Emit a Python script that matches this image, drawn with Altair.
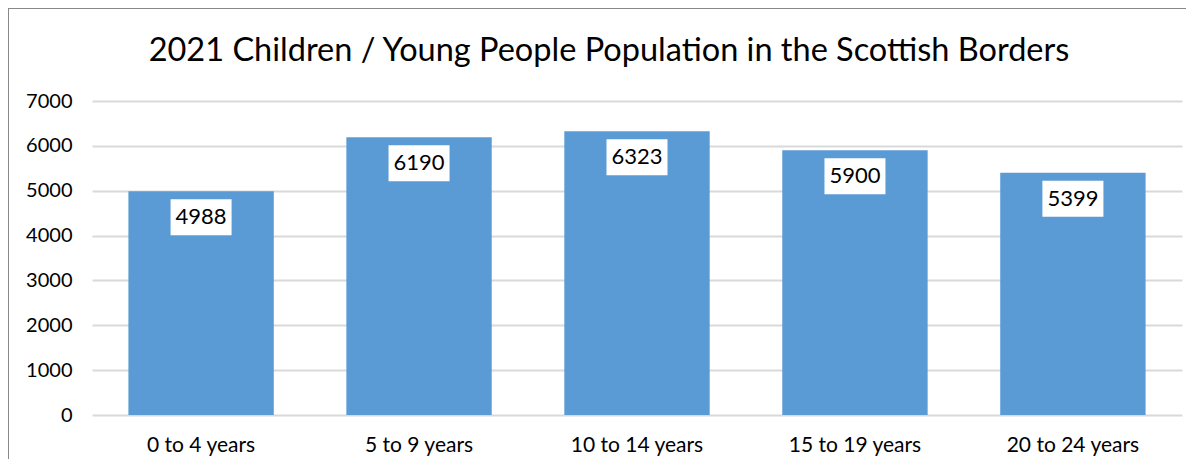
import altair as alt
import pandas as pd

categories = ["0 to 4 years", "5 to 9 years", "10 to 14 years", "15 to 19 years", "20 to 24 years"]
values = [4988, 6190, 6323, 5900, 5399]
title_text = "2021 Children / Young People Population in the Scottish Borders"
y_ticks = [0, 1000, 2000, 3000, 4000, 5000, 6000, 7000]

df = pd.DataFrame({"cat": categories, "val": values})
FONT = "Lato"

x = alt.X("cat:N", sort=categories, title=None,
          scale=alt.Scale(paddingInner=0.333, paddingOuter=0.167),
          axis=alt.Axis(labelAngle=0, labelFont=FONT, labelFontSize=21, labelColor="#000000",
                        labelPadding=19, domain=False, ticks=False, grid=False))
y = alt.Y("val:Q", title=None,
          scale=alt.Scale(domain=[0, 7000], nice=False),
          axis=alt.Axis(values=y_ticks, format="d", labelFont=FONT, labelFontSize=20, labelColor="#000000",
                        labelPadding=20, domain=False, ticks=False, grid=True,
                        gridColor="#d9d9d9", gridWidth=2))

base = alt.Chart(df)
bars = base.mark_bar(color="#5B9BD5").encode(x=x, y=y)
boxes = base.mark_bar(color="white", width=61, yOffset=8, y2Offset=44).encode(
    x=alt.X("cat:N", sort=categories), y="val:Q", y2="val:Q")
labels = base.mark_text(font=FONT, fontSize=22, color="#000000", dy=26, baseline="middle").encode(
    x=alt.X("cat:N", sort=categories), y="val:Q", text="val:Q")

title = alt.Chart(pd.DataFrame({"t": [title_text]})).mark_text(
    font=FONT, fontSize=32.5, color="#000000", baseline="middle", align="center"
).encode(x=alt.value(517), y=alt.value(-50), text="t:N")

border = alt.Chart(pd.DataFrame({"t": [0]})).mark_rect(
    fill=None, stroke="#888888", strokeWidth=2
).encode(x=alt.value(-84), x2=alt.value(1400), y=alt.value(-93), y2=alt.value(600))

chart = alt.layer(bars, boxes, labels, title, border).properties(
    width=1090, height=314,
    autosize=alt.AutoSizeParams(type="none"),
    padding={"left": 84, "top": 93, "right": 4, "bottom": 44},
    background="white",
).configure_view(stroke=None)

chart.save("out.html", embed_options={"renderer": "svg", "actions": False})
